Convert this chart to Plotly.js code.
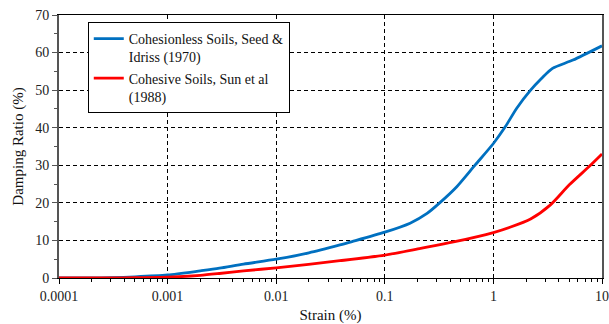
<!DOCTYPE html>
<html><head><meta charset="utf-8">
<script src="https://cdn.plot.ly/plotly-3.0.1.min.js"></script>
<style>
html,body{margin:0;padding:0;background:#fff}
#chart{width:609px;height:324px}
</style>
</head><body><div id="chart"></div>
<script>
const strainBlue = [0.0001, 0.0002, 0.0003, 0.0005, 0.001, 0.002, 0.003, 0.005, 0.01, 0.02, 0.0386, 0.05, 0.1, 0.171, 0.245, 0.32, 0.46, 0.68, 1.0, 1.29, 1.64, 2.2, 2.77, 3.5, 5.4, 10];
const dampBlue   = [0,      0.02,   0.08,   0.3,    0.8,   1.9,   2.6,   3.7,   5.0,  6.7,  8.8,    9.7,  12.2, 14.6,  17.2,  20.0, 24.3, 30.1, 35.8, 40.3, 45.2, 50.0, 53.1, 55.8, 58.0, 61.8];
const strainRed  = [0.0001, 0.0003, 0.0005, 0.001, 0.002, 0.003, 0.005, 0.01, 0.0386, 0.1, 0.214, 0.43, 1.0, 1.42, 2.2, 3.33, 5.0, 7.7, 10];
const dampRed    = [0,      0.02,   0.06,   0.2,   0.7,   1.2,   1.9,   2.7,  4.6,    6.1, 7.9,   9.6,  12.1, 13.5, 15.7, 19.4, 24.8, 29.8, 33.0];
const names = ["Cohesionless Soils, Seed &amp;<br>Idriss (1970)", "Cohesive Soils, Sun et al<br>(1988)"];
const xTickVals = [0.0001, 0.001, 0.01, 0.1, 1, 10];
const xTickText = ["0.0001", "0.001", "0.01", "0.1", "1", "10"];

const serif = "Liberation Serif";
const traces = [
  {x: strainBlue, y: dampBlue, name: names[0], mode: 'lines', line: {color: '#0070C0', width: 2.8, shape: 'spline', smoothing: 0.7}},
  {x: strainRed, y: dampRed, name: names[1], mode: 'lines', line: {color: '#FF0000', width: 2.8, shape: 'spline', smoothing: 0.7}}
];
const grid = {gridcolor: '#000', gridwidth: 1, griddash: '4px,3px'};
const layout = {
  width: 609, height: 324,
  margin: {l: 59, r: 7, t: 15, b: 46},
  paper_bgcolor: '#fff', plot_bgcolor: '#fff',
  font: {family: serif, size: 13, color: '#222'},
  showlegend: true,
  legend: {x: 0.053, y: 0.973, xanchor: 'left', yanchor: 'top', valign: 'top', bgcolor: '#fff', bordercolor: '#000', borderwidth: 1,
           font: {family: serif, size: 14, color: '#111'}, tracegroupgap: 4},
  xaxis: Object.assign({
    type: 'log', range: [-4, 1], tickvals: xTickVals, ticktext: xTickText,
    showline: true, linecolor: '#000', linewidth: 1, mirror: true,
    ticks: 'outside', ticklen: 5, tickcolor: '#000',
    minor: {ticks: 'outside', ticklen: 3, tickcolor: '#000', showgrid: false, dtick: 'D1'},
    zeroline: false,
    title: {text: 'Strain (%)', font: {family: serif, size: 15, color: '#111'}, standoff: 6},
    tickfont: {family: serif, size: 14, color: '#222'}
  }, grid),
  yaxis: Object.assign({
    range: [0, 70], dtick: 10,
    showline: true, linecolor: '#555', linewidth: 2, mirror: true,
    ticks: 'outside', ticklen: 5, tickcolor: '#555',
    minor: {ticks: 'outside', ticklen: 3, tickcolor: '#555', dtick: 5, showgrid: false},
    zeroline: false,
    title: {text: 'Damping Ratio (%)', font: {family: serif, size: 15, color: '#111'}, standoff: 8},
    tickfont: {family: serif, size: 14, color: '#222'}
  }, grid)
};
Plotly.newPlot('chart', traces, layout, {displayModeBar: false, staticPlot: true});
</script></body></html>
